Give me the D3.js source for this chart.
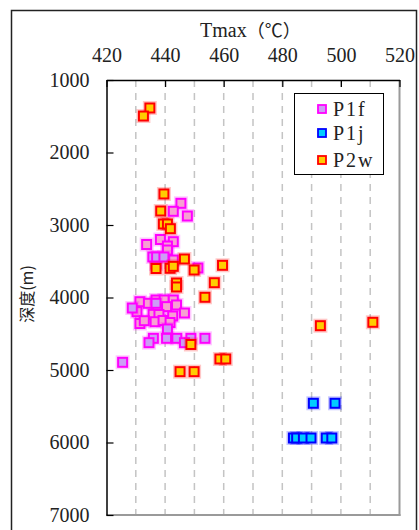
<!DOCTYPE html>
<html><head><meta charset="utf-8">
<script src="https://cdn.jsdelivr.net/npm/d3@7/dist/d3.min.js"></script>
</head><body>
<script>
// Data: [Tmax (°C), depth (m)]
const P1f_pink = [
 [445.4,2701],[442.8,2811],[447.6,2876],[438.4,3200],[442.8,3230],[433.7,3269],[440.8,3290],[440.8,3345],
 [442.8,3483],[436.9,3538],[451.2,3593],[431.4,4058],[430.4,4196],[434.3,4080],[436.9,4034],[439.7,4034],
 [442.8,4034],[440.5,4126],[443.9,4103],[446.6,4214],[435.9,4232],[437.9,4234],[442.6,4255],[431.4,4359],
 [432.9,4320],[436.6,4334],[439.3,4317],[441.7,4345]
];
const P1f_lav = [
 [435.8,3441],[437.1,3441],[439.6,3441],[428.8,4145],[436.9,4080],[440.8,4434],[436.0,4563],[434.5,4623],
 [440.5,4563],[444.0,4563],[448.8,4563],[446.6,4623],[453.6,4563],[425.5,4894]
];
const P1j = [
 [490.6,5459],[498.0,5459],[483.8,5938],[484.9,5938],[487.2,5938],[489.8,5938],[495.0,5938],[496.9,5938]
];
const P2w = [
 [434.8,1386],[432.6,1497],[439.6,2572],[438.5,2807],[439.4,2986],[440.8,2986],[441.8,3051],[446.6,3469],
 [459.6,3556],[436.9,3600],[441.7,3597],[442.8,3570],[449.9,3621],[443.9,3800],[443.9,3855],[456.8,3796],
 [453.6,3997],[448.8,4648],[445.1,5023],[449.9,5023],[458.7,4848],[460.7,4848],[493.0,4389],[510.9,4342]
];
const xTicks = [420,440,460,480,500,520];
const xGrid = [430,440,450,460,470,480,490,500,510];
const yTicks = [1000,2000,3000,4000,5000,6000,7000];
const legendNames = ["P1f","P1j","P2w"];

d3.select("body").style("margin","0");
const W=419,H=530;
const svg=d3.select("body").append("svg").attr("width",W).attr("height",H).style("display","block");
const L=106.5,R=399.5,T=80,B=515;
const x=d3.scaleLinear().domain([420,520]).range([L,R]);
const y=d3.scaleLinear().domain([1000,7000]).range([T,B]);
const serif='"Liberation Serif"';
const cjk='"Noto Sans CJK SC"';

// outer frame
svg.append("rect").attr("x",11.5).attr("y",10.5).attr("width",405).attr("height",540)
  .attr("fill","none").attr("stroke","#222").attr("stroke-width",1.5);

// gridlines
svg.append("g").selectAll("line").data(xGrid).join("line")
  .attr("x1",d=>x(d)).attr("x2",d=>x(d)).attr("y1",T).attr("y2",B)
  .attr("stroke","#c4c4c4").attr("stroke-width",1.5).attr("stroke-dasharray","7,6");

// plot frame: right & bottom grey
svg.append("line").attr("x1",R).attr("x2",R).attr("y1",T).attr("y2",B+1).attr("stroke","#9a9a9a").attr("stroke-width",2);
svg.append("line").attr("x1",L).attr("x2",R+1).attr("y1",B).attr("y2",B).attr("stroke","#9a9a9a").attr("stroke-width",2);

// top axis
const gx=svg.append("g").attr("transform",`translate(0,${T})`)
  .call(d3.axisTop(x).tickValues(xTicks).tickSizeInner(-7).tickSizeOuter(0).tickPadding(18));
gx.attr("font-family",serif).attr("font-size",20);
gx.select(".domain").attr("stroke","#000").attr("stroke-width",1.5);
gx.selectAll(".tick line").attr("stroke","#000").attr("stroke-width",1.2);
gx.selectAll("text").attr("fill","#222");

// left axis
const gy=svg.append("g").attr("transform",`translate(${L},0)`)
  .call(d3.axisLeft(y).tickValues(yTicks).tickSizeInner(-7).tickSizeOuter(0).tickPadding(17).tickFormat(d3.format("d")));
gy.attr("font-family",serif).attr("font-size",20);
gy.select(".domain").attr("stroke","#000").attr("stroke-width",1.5);
gy.selectAll(".tick line").attr("stroke","#000").attr("stroke-width",1.2);
gy.selectAll("text").attr("fill","#222");

// titles
const tt=svg.append("text").attr("x",200).attr("y",37).attr("fill","#222");
tt.append("tspan").attr("font-family",serif).attr("font-size",20).text("Tmax");
tt.append("tspan").attr("font-family",cjk).attr("font-size",18).text("（℃）");
svg.append("text").attr("transform","translate(33,294) rotate(-90)").attr("text-anchor","middle")
  .attr("font-family",cjk).attr("font-size",16).attr("fill","#222").text("深度(m)");

// markers (soft halo drawn as a faint larger square behind)
const S=9;
function draw(data,fill,stroke){
  const g=svg.append("g");
  g.selectAll("rect.h").data(data).join("rect").attr("class","h")
    .attr("x",d=>x(d[0])-S/2-1.5).attr("y",d=>y(d[1])-S/2-1.5).attr("width",S+3).attr("height",S+3)
    .attr("fill","none").attr("stroke",stroke).attr("stroke-opacity",0.22).attr("stroke-width",2);
  g.selectAll("rect.m").data(data).join("rect").attr("class","m")
    .attr("x",d=>x(d[0])-S/2).attr("y",d=>y(d[1])-S/2).attr("width",S).attr("height",S)
    .attr("fill",fill).attr("stroke",stroke).attr("stroke-width",2);
}
draw(P1f_pink,"#f7a0d2","#ff00ff");
draw(P1f_lav,"#cc9cf5","#ff00ff");
draw(P1j,"#00ccff","#0000ff");
draw(P2w,"#ffcc00","#ff0000");

// legend
const lg=svg.append("g");
lg.append("rect").attr("x",294.5).attr("y",93.5).attr("width",89).attr("height",81)
  .attr("fill","#fff").attr("stroke","#000").attr("stroke-width",1);
const lstyle=[["#cc9cf5","#ff00ff"],["#00ccff","#0000ff"],["#ffcc00","#ff0000"]];
const ly=[109,133,160];
legendNames.forEach((n,i)=>{
  lg.append("rect").attr("x",318).attr("y",ly[i]-4).attr("width",8).attr("height",8)
    .attr("fill",lstyle[i][0]).attr("stroke",lstyle[i][1]).attr("stroke-width",1.8);
  lg.append("text").attr("x",333).attr("y",ly[i]+7).attr("font-family",serif).attr("font-size",20)
    .attr("letter-spacing",2).attr("fill","#222").text(n);
});
</script>
</body></html>
